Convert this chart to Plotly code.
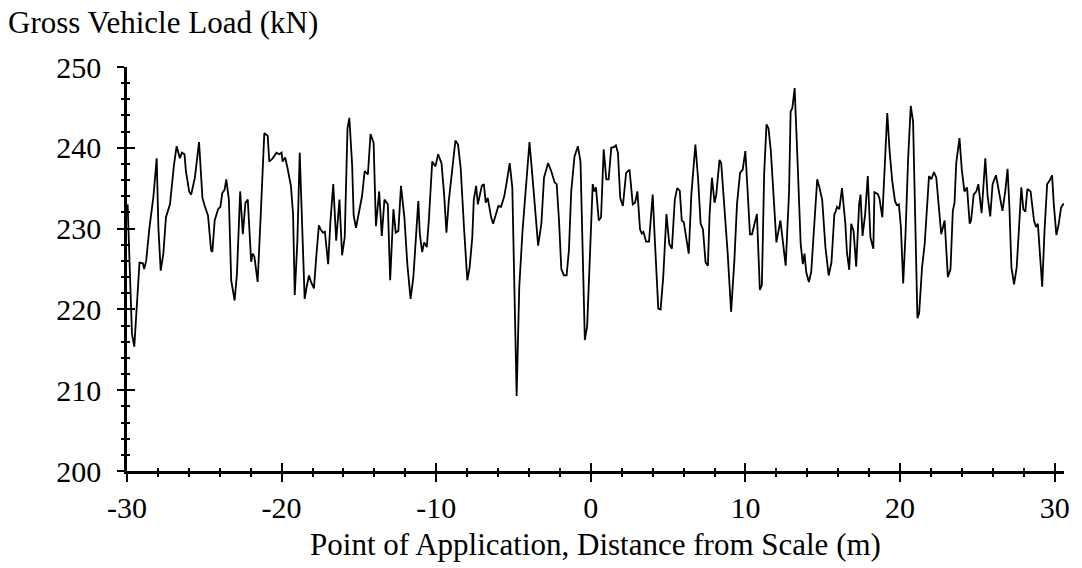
import plotly.graph_objects as go

# Point of application (m)
distance_m = [
    -29.96, -29.68, -29.53, -29.19, -28.97, -28.89, -28.76, -28.55, -28.29, -28.12, -28.08, -27.97, -27.82, -27.65,
    -27.48, -27.22, -27.11, -26.96, -26.79, -26.58, -26.45, -26.28, -26.19, -25.98, -25.85, -25.61, -25.34, -25.12,
    -24.97, -24.76, -24.56, -24.48, -24.33, -24.11, -23.96, -23.84, -23.69, -23.58, -23.41, -23.26, -23.04, -22.89,
    -22.68, -22.51, -22.34, -22.19, -21.97, -21.87, -21.76, -21.55, -21.33, -21.12, -20.90, -20.80, -20.58, -20.33,
    -20.15, -20.00, -19.94, -19.77, -19.62, -19.40, -19.26, -19.15, -18.98, -18.83, -18.66, -18.51, -18.38, -18.23,
    -18.10, -17.91, -17.76, -17.59, -17.48, -17.33, -17.20, -16.99, -16.84, -16.66, -16.47, -16.26, -16.09, -15.92,
    -15.74, -15.62, -15.44, -15.34, -15.19,
    -15.02, -14.80, -14.63, -14.42, -14.25, -14.05, -13.90, -13.69, -13.52, -13.35, -13.13, -12.98, -12.77, -12.62,
    -12.45, -12.28, -12.06, -11.87, -11.66, -11.48, -11.16, -11.06, -10.91, -10.78, -10.61, -10.48, -10.26, -10.05,
    -9.88, -9.66, -9.49, -9.34, -9.19, -8.98, -8.76, -8.59, -8.42, -8.21, -7.99, -7.84, -7.67, -7.57, -7.42,
    -7.31, -7.20, -7.05, -6.92, -6.80, -6.67, -6.45, -6.32, -6.13, -5.98, -5.81, -5.60, -5.43, -5.25, -5.08, -4.95,
    -4.80, -4.63, -4.42, -4.20, -4.10, -3.97, -3.78, -3.56, -3.41, -3.20, -3.03, -2.77, -2.56, -2.34, -2.21, -2.06,
    -1.91, -1.74, -1.57, -1.42, -1.27, -1.06, -0.84, -0.67, -0.50, -0.39, -0.24, -0.03, 0.12, 0.23, 0.33,
    0.51, 0.66, 0.83, 1.00, 1.15, 1.32, 1.51, 1.62, 1.75, 1.90, 2.07, 2.28, 2.50, 2.71, 2.86, 3.01, 3.18, 3.29, 3.40,
    3.57, 3.76, 3.89, 4.00, 4.14, 4.36, 4.51, 4.68, 4.89, 5.07, 5.24, 5.43, 5.58, 5.75, 5.88, 6.01, 6.18, 6.33, 6.50,
    6.76, 6.93, 7.10, 7.25, 7.42, 7.57, 7.68, 7.83, 8.00,
    8.11, 8.32, 8.43, 8.64, 8.85, 9.07, 9.28, 9.45, 9.65, 9.82, 9.99, 10.14, 10.29, 10.42, 10.59, 10.74, 10.93, 11.06,
    11.21, 11.36, 11.49, 11.64, 11.85, 12.00, 12.26, 12.43, 12.60, 12.82, 12.92, 13.03, 13.18, 13.35, 13.57, 13.71,
    13.82, 13.93, 14.10, 14.25, 14.46, 14.64, 14.78, 14.96, 15.17, 15.38, 15.56, 15.75,
    15.81, 15.92, 16.07, 16.24, 16.46, 16.56, 16.71, 16.84, 16.99, 17.16, 17.35, 17.44, 17.57, 17.74, 17.91, 18.08,
    18.27, 18.34, 18.55, 18.66, 18.85, 19.02, 19.17, 19.32, 19.49, 19.67, 19.79, 19.92, 20.05, 20.20, 20.35, 20.52,
    20.69, 20.84, 20.95, 21.12, 21.23, 21.42, 21.59, 21.76, 21.87, 22.02, 22.19, 22.34, 22.49, 22.66, 22.88, 23.09,
    23.26, 23.41,
    23.52, 23.63, 23.84, 23.99, 24.16, 24.33, 24.50, 24.59, 24.76, 24.93, 25.06, 25.27, 25.51, 25.66, 25.83, 25.98,
    26.20, 26.41, 26.62, 26.80, 26.95, 27.07, 27.20, 27.37, 27.54, 27.69, 27.84, 27.97, 28.10, 28.23, 28.44, 28.66,
    28.79, 28.91, 29.04, 29.19, 29.34, 29.51, 29.69, 29.83, 29.94, 30.11, 30.26, 30.41, 30.58,
]

# Gross vehicle load (kN)
load_kn = [
    233, 217, 215.4, 225.8, 225.7, 225, 226, 230.1, 234, 237.5, 238.7, 230.1, 224.8, 226.9,
    231.4, 233, 235.5, 237.9, 240.2, 238.7, 239.4, 239.2, 237.1, 234.6, 234.2, 236.3, 240.7, 233.8,
    232.8, 231.6, 227.3, 227.1, 231, 232.4, 232.7, 234.4, 234.8, 236.1, 233.6, 223.6, 221.1, 224.4,
    234.6, 229.3, 233.2, 233.6, 225.9, 226.9, 226.5, 223.4, 232.6, 241.8, 241.5, 238.3, 238.7, 239.4,
    239.2, 239.4, 238.3, 238.8, 237.5, 235.3, 231.8, 221.8, 228.5, 239.4, 229.7, 221.3, 222.8, 224.2,
    223.4, 222.6, 226.5, 230.4, 229.9, 229.5, 229.6, 225.6, 231, 235.5, 228.5, 233.6, 226.7, 228.9,
    242.4, 243.7, 237.9, 231.6, 230.1,
    231.8, 234, 237.1, 236.7, 241.7, 240.6, 230.3, 234.6, 229.1, 233.6, 233, 223.6, 232.4, 229.5,
    229.7, 235.3, 231.4, 225.6, 221.3, 224, 233.4, 229.3, 227.1, 228.3, 227.7, 231, 238.3, 237.7,
    239.2, 238.1, 234.2, 229.5, 233.4, 237.1, 240.9, 240.4, 237.5, 230.3, 223.6, 225.2, 228.9, 233.6, 235.3,
    233, 234, 235.3, 235.5, 233.2, 233.8, 231.4, 230.6, 232, 232.8, 232.7, 234, 235.9, 238.1, 235.1, 223.6,
    209.3, 222.8, 229.7, 235.1, 237.3, 240.7, 236.5, 231.8, 227.9, 230.6, 236.3, 238.1, 237.1, 235.7, 235.5, 231,
    225, 224.2, 224.2, 227.3, 234.6, 238.9, 240.2, 238.3, 226.5, 216.2, 217.9, 228.5, 235.5, 234.6, 235.1,
    231, 231.4, 239.8, 236.1, 236.1, 240, 240.1, 240.3, 239.4, 233.8, 232.8, 236.9, 237.3, 233, 233.2, 234.6, 229.9, 229.4, 229.6,
    228.4, 228.4, 232.2, 234.2, 228.5, 220.1, 220, 224, 231.8, 228.1, 227.5, 233.6, 235, 234.7, 231, 230.8, 228.7, 226.9, 234.2,
    240.4, 236.3, 230.6, 229.9, 225.8, 225.4, 231.8, 236.3, 233.2,
    234.2, 238.5, 238.1, 233, 226.9, 219.7, 226, 233, 236.9, 237.3, 239.6, 234.6, 229.3, 229.3, 230.8, 231.8, 222.4, 223,
    236.9, 242.9, 242.4, 239.6, 233, 228.3, 231, 228.1, 225.4, 234.6, 244.5, 244.9, 247.4, 239.2, 228.1, 225.6,
    226.9, 224.6, 223.4, 224.6, 231, 236.1, 235.1, 233.6, 227.7, 224.2, 225.8, 231.8,
    232, 232.7, 232.4, 235, 230.6, 227.1, 224.9, 230.6, 229.7, 225.3, 233, 234.2, 229.1, 231.8, 236.5, 228.9,
    227.5, 234.5, 234.3, 233.8, 231.4, 237.5, 244.3, 239.6, 235.9, 233.4, 232.9, 233, 230.2, 223.2, 229.3, 238.7,
    245.2, 243.2, 232.6, 218.9, 219.5, 225.2, 228.1, 233.2, 236.5, 236.1, 237, 236.3, 233.4, 229.3, 231, 224,
    225, 232.2,
    233.2, 238.1, 241.2, 237.3, 234.6, 235.1, 230.6, 231, 234.2, 234.6, 235.5, 231.9, 238.7, 234, 231.5, 235.5,
    236.6, 234.6, 232.2, 234.6, 237.4, 232.6, 225.2, 223.1, 225.2, 230.1, 235.1, 232.4, 232.1, 234.9, 234.6, 231,
    230.2, 230.6, 226.5, 222.8, 229.7, 235.5, 236, 236.6, 233, 229.2, 230.6, 232.6, 233.1,
]

x_ticks = [-30, -20, -10, 0, 10, 20, 30]
y_ticks = [200, 210, 220, 230, 240, 250]
x_range = [-30, 30.6]
y_range = [200, 250]

FONT = "Liberation Serif"
n = min(len(distance_m), len(load_kn))

fig = go.Figure()
fig.add_trace(go.Scatter(
    x=distance_m[:n], y=load_kn[:n], mode="lines",
    line=dict(color="black", width=1.8), showlegend=False, hoverinfo="skip",
))
# transparent copy on the overlay axes, which carry the inner half of the crossing ticks
fig.add_trace(go.Scatter(
    x=distance_m[:n], y=load_kn[:n], xaxis="x2", yaxis="y2", mode="lines",
    line=dict(color="rgba(0,0,0,0)", width=1), showlegend=False, hoverinfo="skip",
))

tickfont = dict(family=FONT, size=30, color="black")

fig.update_layout(
    width=1082, height=568,
    margin=dict(l=127, r=12, t=67, b=95),
    plot_bgcolor="white", paper_bgcolor="white",
    font=dict(family=FONT, color="black"),
    xaxis=dict(
        range=x_range, tickmode="array", tickvals=x_ticks, ticktext=[str(v) for v in x_ticks],
        ticks="outside", ticklen=8, tickwidth=2, tickcolor="black",
        minor=dict(tick0=-30, dtick=2, ticks="outside", ticklen=3, tickwidth=1.5, tickcolor="black", showgrid=False),
        showline=True, linewidth=2.5, linecolor="black", showgrid=False, zeroline=False,
        tickfont=tickfont,
        title=dict(text="Point of Application, Distance from Scale (m)",
                   font=dict(family=FONT, size=31, color="black"), standoff=11),
    ),
    xaxis2=dict(
        range=x_range, overlaying="x", anchor="y", side="bottom",
        tickmode="array", tickvals=x_ticks, showticklabels=False,
        ticks="inside", ticklen=8, tickwidth=2, tickcolor="black",
        minor=dict(tick0=-30, dtick=2, ticks="inside", ticklen=3, tickwidth=1.5, tickcolor="black", showgrid=False),
        showline=False, showgrid=False, zeroline=False,
    ),
    yaxis=dict(
        range=y_range, tickmode="array", tickvals=y_ticks, ticktext=[str(v) for v in y_ticks],
        ticks="outside", ticklen=7, tickwidth=2, tickcolor="black",
        minor=dict(tick0=200, dtick=2, ticks="outside", ticklen=3, tickwidth=1.5, tickcolor="black", showgrid=False),
        showline=True, linewidth=2.5, linecolor="black", showgrid=False, zeroline=False,
        tickfont=tickfont, ticklabelstandoff=10,
    ),
    yaxis2=dict(
        range=y_range, overlaying="y", anchor="x", side="left",
        tickmode="array", tickvals=y_ticks, showticklabels=False,
        ticks="inside", ticklen=8, tickwidth=2, tickcolor="black",
        minor=dict(tick0=200, dtick=2, ticks="inside", ticklen=3, tickwidth=1.5, tickcolor="black", showgrid=False),
        showline=False, showgrid=False, zeroline=False,
    ),
    title=dict(text="Gross Vehicle Load (kN)", font=dict(family=FONT, size=31, color="black"),
               x=8 / 1082, xref="container", xanchor="left",
               y=1 - 11 / 568, yref="container", yanchor="top", pad=dict(t=0, l=0)),
)

fig.write_html("out.html")
